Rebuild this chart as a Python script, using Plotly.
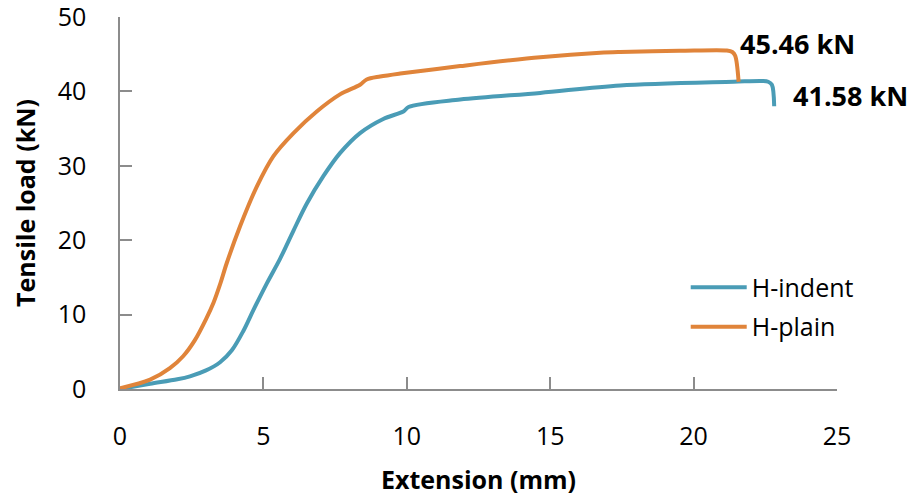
import plotly.graph_objects as go

# H-indent (blue)
indent_x = [0, 1.05, 2.0, 2.44, 3.0, 3.49, 3.9, 4.3, 4.65, 5.12, 5.58, 6.05, 6.51, 7.09, 7.67,
            8.37, 9.18, 9.88, 10.06, 11.86, 14.65, 17.44, 21.4, 22.4, 22.6, 22.73, 22.81]
indent_y = [0, 0.7, 1.3, 1.7, 2.5, 3.6, 5.2, 7.8, 10.6, 14.2, 17.5, 21.3, 24.9, 28.6, 31.7,
            34.4, 36.3, 37.3, 37.9, 38.9, 39.8, 40.8, 41.3, 41.4, 41.3, 40.9, 38.0]

# H-plain (orange)
plain_x = [0, 1.05, 1.74, 2.2, 2.6, 3.0, 3.26, 3.5, 3.72, 4.19, 4.77, 5.35, 6.05, 6.86, 7.67,
           8.37, 8.6, 9.07, 9.77, 11.86, 14.65, 16.74, 17.44, 19.5, 21.16, 21.35, 21.45, 21.57]
plain_y = [0.1, 1.25, 2.8, 4.4, 6.5, 9.4, 11.6, 14.2, 16.9, 21.9, 27.2, 31.3, 34.4, 37.3, 39.6,
           40.9, 41.6, 42.0, 42.4, 43.4, 44.6, 45.2, 45.3, 45.45, 45.5, 45.3, 44.8, 41.3]

x_ticks = [0, 5, 10, 15, 20, 25]
y_ticks = [0, 10, 20, 30, 40, 50]

peak_labels = ["45.46 kN", "41.58 kN"]
peak_label_x = [21.55, 23.4]
peak_label_y = [46.4, 39.4]

BLUE = "#4A9CB6"
ORANGE = "#E0843A"
FONT = "Open Sans"

fig = go.Figure()
fig.add_trace(go.Scatter(x=indent_x, y=indent_y, mode="lines", name="H-indent",
                         line=dict(color=BLUE, width=4, shape="spline", smoothing=0.9),
                         legendgroup="a"))
fig.add_trace(go.Scatter(x=plain_x, y=plain_y, mode="lines", name="H-plain",
                         line=dict(color=ORANGE, width=4, shape="spline", smoothing=0.9),
                         legendgroup="b"))

for t, lx, ly in zip(peak_labels, peak_label_x, peak_label_y):
    fig.add_annotation(x=lx, y=ly, text="<b>%s</b>" % t, showarrow=False,
                       xanchor="left", yanchor="middle",
                       font=dict(family=FONT, size=27, color="#000000"))

axis_common = dict(showgrid=False, zeroline=False, showline=True, linecolor="#8c8c8c",
                   linewidth=1.5, ticks="inside", tickcolor="#8c8c8c", tickwidth=1.5,
                   ticklen=12, automargin=False, ticklabeloverflow="allow",
                   tickfont=dict(family=FONT, size=25, color="#000000"))

fig.update_xaxes(range=[0, 25], tickvals=x_ticks, ticklabelstandoff=24,
                 title=dict(text="<b>Extension (mm)</b>", font=dict(family=FONT, size=25, color="#000000"),
                            standoff=21),
                 **axis_common)
fig.update_yaxes(range=[0, 50], tickvals=y_ticks, ticklabelstandoff=27,
                 title=dict(text="<b>Tensile load (kN)</b>", font=dict(family=FONT, size=25, color="#000000"),
                            standoff=15),
                 **axis_common)

fig.update_layout(
    width=922, height=499,
    margin=dict(l=120, r=85, t=17, b=110),
    plot_bgcolor="white", paper_bgcolor="white",
    legend=dict(x=0.789, y=0.335, xanchor="left", yanchor="top",
                font=dict(family=FONT, size=25, color="#000000"),
                itemwidth=56, tracegroupgap=4, bgcolor="rgba(0,0,0,0)"),
    font=dict(family=FONT),
)

fig.write_html("out.html", config={"displayModeBar": False},
               post_script="document.body.style.margin='0';")
